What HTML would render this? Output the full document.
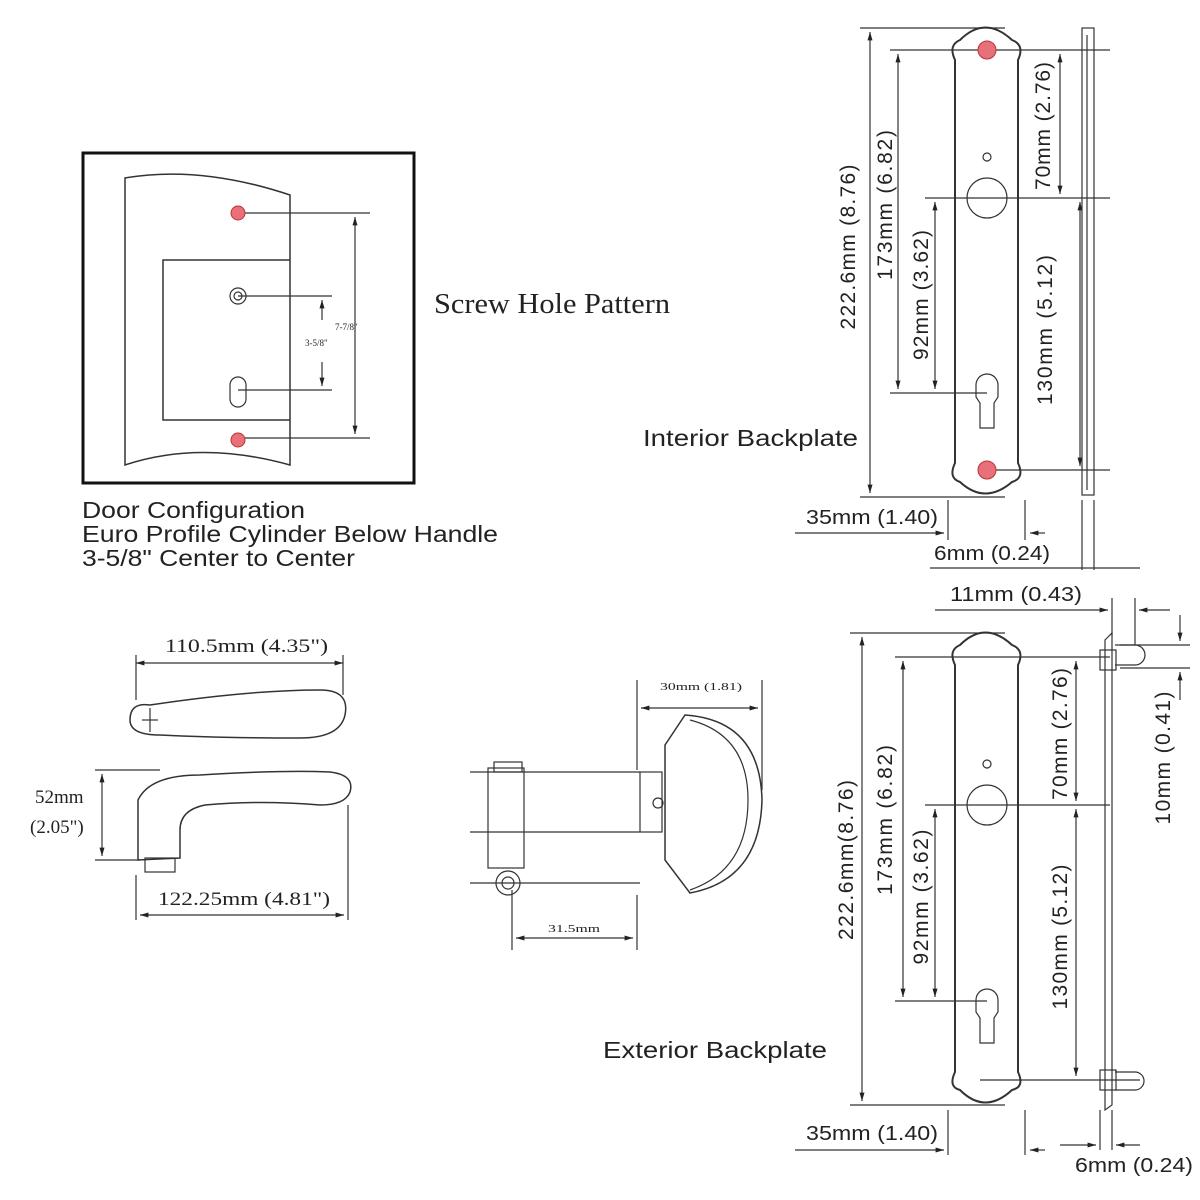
<!DOCTYPE html>
<html><head><meta charset="utf-8"><style>
html,body{margin:0;padding:0;background:#fff}
svg{display:block}
.s{font-family:"Liberation Sans",sans-serif;fill:#222}
.r{font-family:"Liberation Serif",serif;fill:#222}
</style></head><body>
<svg width="1200" height="1200" viewBox="0 0 1200 1200" xmlns="http://www.w3.org/2000/svg">
<defs>
<marker id="a" viewBox="0 0 10 10" refX="10" refY="5" markerWidth="7" markerHeight="7" orient="auto-start-reverse"><path d="M0,2 L10,5 L0,8z" fill="#222"/></marker>
</defs>
<g stroke="#333" fill="none" stroke-width="1.2">
<rect x="83" y="153" width="331" height="330" stroke="#111" stroke-width="3"/>
<path d="M125,178 Q200,165 290,195 L290,465 Q200,440 125,465 Z" stroke-width="1.5"/>
<path d="M290,260 L163,260 L163,420 L290,420" stroke-width="1.5"/>
<circle cx="238" cy="296" r="8"/><circle cx="238" cy="296" r="4"/>
<path d="M230,385 a8,8 0 0 1 16,0 v14 a8,8 0 0 1 -16,0z"/>
<line x1="238" y1="213" x2="370" y2="213"/>
<line x1="238" y1="296" x2="332" y2="296"/>
<line x1="238" y1="390" x2="332" y2="390"/>
<line x1="238" y1="438" x2="370" y2="438"/>
<line x1="355" y1="217" x2="355" y2="434" marker-start="url(#a)" marker-end="url(#a)"/>
<line x1="322" y1="300" x2="322" y2="320" marker-start="url(#a)"/>
<line x1="322" y1="362" x2="322" y2="386" marker-end="url(#a)"/>

<path d="M955,60 Q948,45 960,40 Q985,15 1012,40 Q1025,45 1018,60 L1018,463 Q1025,478 1012,482 Q985,505 960,482 Q948,478 955,463 Z" stroke-width="2"/>
<circle cx="987" cy="198" r="20"/>
<circle cx="987" cy="157" r="4"/>
<path d="M976,385 a11,11 0 0 1 22,0 v12 l-4,6 v25 h-14 v-25 l-4,-6z"/>
<line x1="860" y1="28" x2="1005" y2="28"/><line x1="860" y1="497" x2="1005" y2="497"/>
<line x1="870" y1="32" x2="870" y2="493" marker-start="url(#a)" marker-end="url(#a)"/>
<line x1="890" y1="50" x2="1110" y2="50"/>
<line x1="898" y1="54" x2="898" y2="389" marker-start="url(#a)" marker-end="url(#a)"/>
<line x1="925" y1="198" x2="1110" y2="198"/>
<line x1="890" y1="393" x2="987" y2="393"/>
<line x1="935" y1="202" x2="935" y2="389" marker-start="url(#a)" marker-end="url(#a)"/>
<line x1="1060" y1="54" x2="1060" y2="194" marker-start="url(#a)" marker-end="url(#a)"/>
<line x1="980" y1="470" x2="1110" y2="470"/>
<line x1="1080" y1="202" x2="1080" y2="466" marker-start="url(#a)" marker-end="url(#a)"/>
<rect x="1082" y="28" width="12" height="467"/>
<line x1="1087" y1="35" x2="1087" y2="490"/>
<line x1="948" y1="500" x2="948" y2="540"/><line x1="1025" y1="500" x2="1025" y2="540"/>
<line x1="795" y1="533" x2="944" y2="533" marker-end="url(#a)"/><line x1="1030" y1="533" x2="1045" y2="533" marker-start="url(#a)"/>
<line x1="1082" y1="500" x2="1082" y2="570"/><line x1="1094" y1="500" x2="1094" y2="570"/>
<line x1="930" y1="568" x2="1140" y2="568"/>

<path d="M955,665 Q948,650 960,645 Q985,620 1012,645 Q1025,650 1018,665 L1018,1072 Q1025,1087 1012,1090 Q985,1115 960,1090 Q948,1087 955,1072 Z" stroke-width="2"/>
<circle cx="987" cy="805" r="20"/>
<circle cx="987" cy="764" r="4"/>
<path d="M976,1000 a11,11 0 0 1 22,0 v12 l-4,6 v25 h-14 v-25 l-4,-6z"/>
<line x1="850" y1="633" x2="1005" y2="633"/><line x1="850" y1="1105" x2="1005" y2="1105"/>
<line x1="862" y1="637" x2="862" y2="1101" marker-start="url(#a)" marker-end="url(#a)"/>
<line x1="895" y1="657" x2="1110" y2="657"/>
<line x1="903" y1="661" x2="903" y2="997" marker-start="url(#a)" marker-end="url(#a)"/>
<line x1="925" y1="805" x2="1110" y2="805"/>
<line x1="895" y1="1001" x2="987" y2="1001"/>
<line x1="935" y1="809" x2="935" y2="997" marker-start="url(#a)" marker-end="url(#a)"/>
<line x1="1076" y1="661" x2="1076" y2="801" marker-start="url(#a)" marker-end="url(#a)"/>
<line x1="980" y1="1080" x2="1140" y2="1080"/>
<line x1="1076" y1="809" x2="1076" y2="1076" marker-start="url(#a)" marker-end="url(#a)"/>
<path d="M1105,640 L1112,633 L1112,1105 L1105,1110 Z"/>
<rect x="1100" y="650" width="16" height="20"/><rect x="1100" y="1070" width="16" height="20"/>
<path d="M1115,645 h20 a6,6 0 0 1 0,20 h-20"/><path d="M1115,1072 h20 a6,6 0 0 1 0,18 h-20"/>
<line x1="1135" y1="598" x2="1135" y2="645"/><line x1="1112" y1="598" x2="1112" y2="635"/>
<line x1="935" y1="610" x2="1108" y2="610" marker-end="url(#a)"/><line x1="1139" y1="610" x2="1170" y2="610" marker-start="url(#a)"/>
<line x1="1120" y1="645" x2="1190" y2="645"/><line x1="1120" y1="668" x2="1190" y2="668"/>
<line x1="1180" y1="615" x2="1180" y2="641" marker-end="url(#a)"/><line x1="1180" y1="672" x2="1180" y2="700" marker-start="url(#a)"/>
<line x1="948" y1="1110" x2="948" y2="1155"/><line x1="1025" y1="1110" x2="1025" y2="1155"/>
<line x1="795" y1="1150" x2="944" y2="1150" marker-end="url(#a)"/><line x1="1030" y1="1150" x2="1045" y2="1150" marker-start="url(#a)"/>
<line x1="1100" y1="1110" x2="1100" y2="1150"/><line x1="1112" y1="1110" x2="1112" y2="1150"/>
<line x1="1060" y1="1145" x2="1096" y2="1145" marker-end="url(#a)"/><line x1="1116" y1="1145" x2="1140" y2="1145" marker-start="url(#a)"/>

<path d="M150,705 Q250,690 320,690 Q350,690 345,715 Q340,738 300,738 Q220,738 160,735 Q130,735 130,720 Q130,702 150,705Z" stroke-width="1.5"/>
<line x1="150" y1="708" x2="150" y2="732"/><line x1="142" y1="720" x2="158" y2="720"/>
<path d="M138,860 L138,800 Q150,775 200,775 Q280,770 330,772 Q355,775 350,792 Q345,805 320,805 Q260,800 205,805 Q180,810 180,830 L180,858 Z" stroke-width="1.5"/>
<rect x="145" y="858" width="30" height="14"/>
<line x1="136" y1="663" x2="343" y2="663" marker-start="url(#a)" marker-end="url(#a)"/>
<line x1="136" y1="655" x2="136" y2="700"/><line x1="343" y1="655" x2="343" y2="695"/>
<line x1="95" y1="770" x2="160" y2="770"/><line x1="95" y1="860" x2="140" y2="860"/>
<line x1="102" y1="774" x2="102" y2="856" marker-start="url(#a)" marker-end="url(#a)"/>
<line x1="136" y1="875" x2="136" y2="920"/><line x1="348" y1="805" x2="348" y2="920"/>
<line x1="140" y1="915" x2="344" y2="915" marker-start="url(#a)" marker-end="url(#a)"/>

<rect x="488" y="768" width="36" height="100"/>
<rect x="494" y="762" width="28" height="10"/>
<line x1="470" y1="772" x2="640" y2="772"/><line x1="470" y1="832" x2="640" y2="832"/>
<line x1="470" y1="883" x2="640" y2="883"/>
<circle cx="508" cy="883" r="12"/><circle cx="508" cy="883" r="6"/>
<rect x="640" y="772" width="22" height="60"/>
<circle cx="658" cy="803" r="5"/>
<path d="M665,745 L685,715 Q760,720 762,800 Q760,880 690,893 L665,860 Z" stroke-width="1.5"/>
<path d="M690,720 Q748,735 748,800 Q748,870 690,890"/>
<line x1="637" y1="680" x2="637" y2="770"/><line x1="762" y1="680" x2="762" y2="790"/>
<line x1="641" y1="708" x2="758" y2="708" marker-start="url(#a)" marker-end="url(#a)"/>
<line x1="512" y1="890" x2="512" y2="950"/><line x1="637" y1="895" x2="637" y2="950"/>
<line x1="516" y1="938" x2="633" y2="938" marker-start="url(#a)" marker-end="url(#a)"/>
</g>
<g fill="#e8707a" stroke="#b33" stroke-width="1">
<circle cx="238" cy="213" r="7"/><circle cx="238" cy="440" r="7"/>
<circle cx="987" cy="50" r="9"/><circle cx="987" cy="470" r="9"/>
</g>
<text class="r" x="434" y="313" font-size="28" textLength="236" lengthAdjust="spacingAndGlyphs">Screw Hole Pattern</text>
<text class="r" x="335" y="330" font-size="9">7-7/8"</text>
<text class="r" x="305" y="346" font-size="9">3-5/8"</text>
<text class="s" x="82" y="518" font-size="23" textLength="223" lengthAdjust="spacingAndGlyphs">Door Configuration</text>
<text class="s" x="82" y="542" font-size="23" textLength="416" lengthAdjust="spacingAndGlyphs">Euro Profile Cylinder Below Handle</text>
<text class="s" x="82" y="566" font-size="23" textLength="273" lengthAdjust="spacingAndGlyphs">3-5/8" Center to Center</text>
<text class="s" x="643" y="446" font-size="23" textLength="215" lengthAdjust="spacingAndGlyphs">Interior Backplate</text>
<text class="s" x="603" y="1058" font-size="23" textLength="224" lengthAdjust="spacingAndGlyphs">Exterior Backplate</text>
<text class="s" x="806" y="524" font-size="20" textLength="132" lengthAdjust="spacingAndGlyphs">35mm (1.40)</text>
<text class="s" x="934" y="560" font-size="20" textLength="116" lengthAdjust="spacingAndGlyphs">6mm (0.24)</text>
<text class="s" x="950" y="601" font-size="20" textLength="132" lengthAdjust="spacingAndGlyphs">11mm (0.43)</text>
<text class="s" x="806" y="1140" font-size="20" textLength="132" lengthAdjust="spacingAndGlyphs">35mm (1.40)</text>
<text class="s" x="1075" y="1172" font-size="20" textLength="118" lengthAdjust="spacingAndGlyphs">6mm (0.24)</text>
<g class="s" font-size="21" text-anchor="middle" lengthAdjust="spacingAndGlyphs">
<text transform="translate(855,247) rotate(-90)" textLength="165">222.6mm (8.76)</text>
<text transform="translate(892,205) rotate(-90)" textLength="150">173mm (6.82)</text>
<text transform="translate(928,295) rotate(-90)" textLength="130">92mm (3.62)</text>
<text transform="translate(1050,126) rotate(-90)" textLength="128">70mm (2.76)</text>
<text transform="translate(1052,330) rotate(-90)" textLength="150">130mm (5.12)</text>
<text transform="translate(853,860) rotate(-90)" textLength="160">222.6mm(8.76)</text>
<text transform="translate(892,820) rotate(-90)" textLength="150">173mm (6.82)</text>
<text transform="translate(928,897) rotate(-90)" textLength="135">92mm (3.62)</text>
<text transform="translate(1067,734) rotate(-90)" textLength="132">70mm (2.76)</text>
<text transform="translate(1067,937) rotate(-90)" textLength="145">130mm (5.12)</text>
<text transform="translate(1170,758) rotate(-90)" textLength="133">10mm (0.41)</text>
</g>
<text class="r" x="165" y="652" font-size="19" textLength="163" lengthAdjust="spacingAndGlyphs">110.5mm (4.35")</text>
<text class="r" x="35" y="803" font-size="19">52mm</text>
<text class="r" x="30" y="833" font-size="19">(2.05")</text>
<text class="r" x="158" y="905" font-size="19" textLength="172" lengthAdjust="spacingAndGlyphs">122.25mm (4.81")</text>
<text class="r" x="660" y="690" font-size="11" textLength="82" lengthAdjust="spacingAndGlyphs">30mm (1.81)</text>
<text class="r" x="548" y="932" font-size="11" textLength="52" lengthAdjust="spacingAndGlyphs">31.5mm</text>
</svg>
</body></html>
